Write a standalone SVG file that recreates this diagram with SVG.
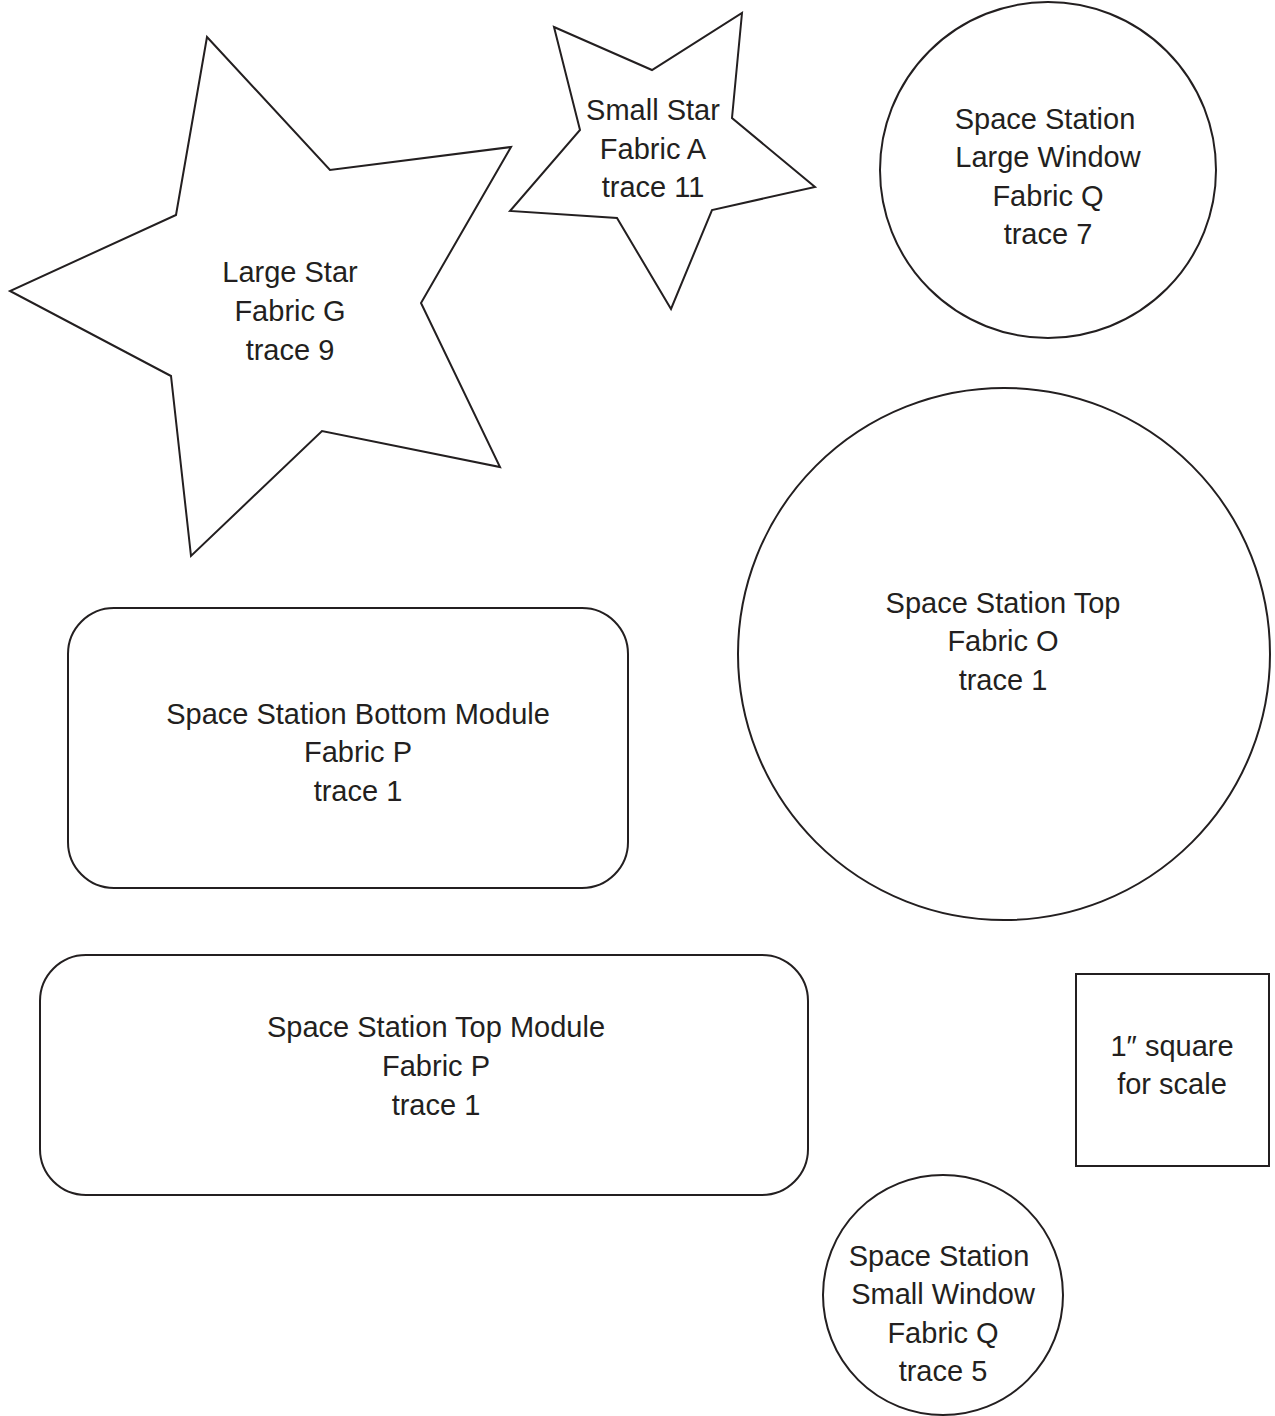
<svg xmlns="http://www.w3.org/2000/svg" width="1275" height="1416" viewBox="0 0 1275 1416">
<style>
.shape{fill:#ffffff;stroke:#231f20;stroke-width:2;stroke-linejoin:miter}
.lbl{font-family:"Liberation Sans",Arial,sans-serif;font-size:29px;fill:#231f20;text-anchor:middle}
</style>
<rect x="0" y="0" width="1275" height="1416" fill="#ffffff"/>
<g id="large-star">
<polygon class="shape" points="207,37 330,170 511,147 421,303 500,467 322,431 191,556 171,376 10,291 176,215"/>
<text class="lbl" x="290" y="282">Large Star</text>
<text class="lbl" x="290" y="321">Fabric G</text>
<text class="lbl" x="290" y="360">trace 9</text>
</g>
<g id="small-star">
<polygon class="shape" points="554,27 652,70 742,13 732,118 815,187 712,210 671,309 617,218 510,211 580,130"/>
<text class="lbl" x="653" y="120">Small Star</text>
<text class="lbl" x="653" y="159">Fabric A</text>
<text class="lbl" x="653" y="197">trace 11</text>
</g>
<g id="large-window">
<circle class="shape" cx="1048" cy="170" r="168"/>
<text class="lbl" x="1045" y="129">Space Station</text>
<text class="lbl" x="1048" y="167">Large Window</text>
<text class="lbl" x="1048" y="206">Fabric Q</text>
<text class="lbl" x="1048" y="244">trace 7</text>
</g>
<g id="station-top">
<circle class="shape" cx="1004" cy="654" r="266"/>
<text class="lbl" x="1003" y="613">Space Station Top</text>
<text class="lbl" x="1003" y="651">Fabric O</text>
<text class="lbl" x="1003" y="690">trace 1</text>
</g>
<g id="bottom-module">
<rect class="shape" x="68" y="608" width="560" height="280" rx="46" ry="46"/>
<text class="lbl" x="358" y="724">Space Station Bottom Module</text>
<text class="lbl" x="358" y="762">Fabric P</text>
<text class="lbl" x="358" y="801">trace 1</text>
</g>
<g id="top-module">
<rect class="shape" x="40" y="955" width="768" height="240" rx="46" ry="46"/>
<text class="lbl" x="436" y="1037">Space Station Top Module</text>
<text class="lbl" x="436" y="1076">Fabric P</text>
<text class="lbl" x="436" y="1115">trace 1</text>
</g>
<g id="scale-square">
<rect class="shape" x="1076" y="974" width="193" height="192"/>
<text class="lbl" x="1172" y="1056">1″ square</text>
<text class="lbl" x="1172" y="1094">for scale</text>
</g>
<g id="small-window">
<circle class="shape" cx="943" cy="1295" r="120"/>
<text class="lbl" x="939" y="1266">Space Station</text>
<text class="lbl" x="943" y="1304">Small Window</text>
<text class="lbl" x="943" y="1343">Fabric Q</text>
<text class="lbl" x="943" y="1381">trace 5</text>
</g>
<g id="connectors"></g>
</svg>
